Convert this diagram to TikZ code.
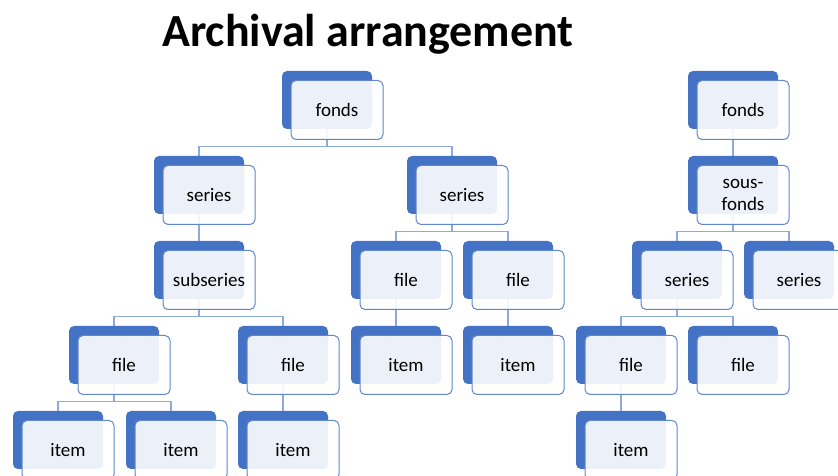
\documentclass[tikz,border=0pt]{standalone}
\usepackage{fontspec}
\setmainfont{Carlito}
\usetikzlibrary{backgrounds}
\definecolor{accent}{HTML}{4472C4}
\definecolor{linkblue}{HTML}{8EA9DB}
\tikzset{
  unitback/.style={draw=none,fill=accent,rounded corners=5pt,minimum width=90pt,minimum height=58pt,inner sep=0pt},
  unitfront/.style={draw=accent!85,line width=1pt,fill=white,fill opacity=0.9,text opacity=1,rounded corners=5pt,
    minimum width=92pt,minimum height=59pt,inner sep=0pt,align=center,
    font=\fontsize{19}{22}\selectfont},
  link/.style={draw=linkblue,line width=1.2pt}
}
\begin{document}
\begin{tikzpicture}[x=1pt,y=1pt]
      \useasboundingbox (0,0) rectangle (838,476);
      \node[anchor=base,font=\fontsize{46}{50}\selectfont\bfseries] (title) at (368,429) {Archival arrangement};
      % units of the arrangement
      \foreach \n/\x/\y/\t in {fonds/327/376/fonds, seriesA/199/291/series, seriesB/452/291/series,
          subseries/199/206/subseries, fileA/114/121/file, fileB/283/121/file,
          itemA/58/36/item, itemB/171/36/item, itemC/283/36/item,
          fileC/396/206/file, fileD/508/206/file, itemD/396/121/item, itemE/508/121/item,
          fondsR/733/376/fonds, sousfonds/733/291/sous-\\fonds,
          seriesC/677/206/series, seriesD/789/206/series,
          fileE/621/121/file, fileF/733/121/file, itemF/621/36/item} {
        \node[unitback] (\n) at (\x,\y) {};
        \node[unitfront] (\n-t) at ([shift={(10,-10)}]\n.center) {\t};
      }
      \begin{scope}[on background layer]
        \foreach \p/\c in {fonds/seriesA, fonds/seriesB, seriesA/subseries,
            subseries/fileA, subseries/fileB, fileA/itemA, fileA/itemB, fileB/itemC,
            seriesB/fileC, seriesB/fileD, fileC/itemD, fileD/itemE,
            fondsR/sousfonds, sousfonds/seriesC, sousfonds/seriesD,
            seriesC/fileE, seriesC/fileF, fileE/itemF} {
          \draw[link] (\p.south) -- ++(0,-17) -| (\c.north);
        }
      \end{scope}
    \end{tikzpicture}
\end{document}
